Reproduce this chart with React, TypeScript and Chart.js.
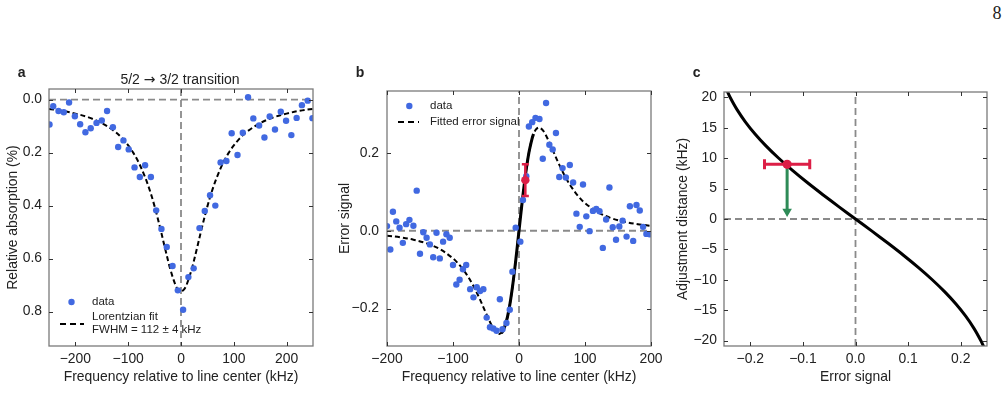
import React, { useEffect, useRef } from "react";
import { Chart, registerables } from "chart.js";
Chart.register(...registerables);

const FONT = "'Liberation Sans', Arial, Helvetica, sans-serif";
const ARROW_FONT = "'DejaVu Sans', sans-serif";
const TXT = "#222222";
const BLUE = "#4169E1";
const RED = "#DC1E46";
const GREEN = "#2E8B57";
const ZERO_GRAY = "#8a8a8a";
const FRAME = "#7a7a7a";
const FS = 13.9;

// ---------- Panel a : 5/2 -> 3/2 transition ----------
const A_FREQ = [-249, -242, -232, -222, -212, -201, -191, -181, -171, -160, -150, -140, -129, -119, -109, -99, -88, -78, -68, -57, -47, -37, -27, -16, -6, 4, 14, 24, 35, 45, 55, 65, 75, 86, 96, 107, 117, 127, 137, 148, 158, 168, 178, 189, 199, 209, 219, 229, 240, 249];
const A_ABS = [0.094, 0.025, 0.043, 0.048, 0.011, 0.063, 0.093, 0.123, 0.108, 0.088, 0.079, 0.043, 0.104, 0.179, 0.154, 0.188, 0.256, 0.292, 0.248, 0.292, 0.418, 0.488, 0.556, 0.628, 0.720, 0.793, 0.670, 0.637, 0.485, 0.420, 0.361, 0.400, 0.237, 0.232, 0.127, 0.209, 0.125, -0.009, 0.071, 0.098, 0.143, 0.064, 0.113, 0.046, 0.080, 0.134, 0.069, 0.021, 0.004, 0.070];
const A_FIT_FREQ = [-250, -225, -200, -175, -150, -125, -110, -100, -90, -80, -70, -60, -50, -40, -30, -20, -10, -5, 0, 5, 10, 20, 30, 40, 50, 60, 70, 80, 90, 100, 110, 125, 150, 175, 200, 225, 250];
const A_FIT_ABS = [0.035, 0.042, 0.053, 0.067, 0.089, 0.121, 0.149, 0.173, 0.202, 0.238, 0.283, 0.337, 0.403, 0.480, 0.563, 0.642, 0.702, 0.718, 0.724, 0.718, 0.702, 0.642, 0.563, 0.480, 0.403, 0.337, 0.283, 0.238, 0.202, 0.173, 0.149, 0.121, 0.089, 0.067, 0.053, 0.042, 0.035];
const A_XTICKS = [-200, -100, 0, 100, 200];
const A_YTICKS = [0, 0.2, 0.4, 0.6, 0.8];

// ---------- Panel b : error signal ----------
const B_FREQ = [-200, -195, -191, -186, -181, -176, -171, -166, -160, -155, -150, -145, -140, -135, -130, -125, -120, -115, -110, -105, -100, -95, -90, -85, -80, -74, -69, -64, -59, -54, -49, -44, -39, -34, -29, -25, -19, -14, -10, -5, 2, 6, 11, 15, 20, 25, 31, 36, 41, 46, 51, 56, 61, 66, 71, 77, 82, 87, 92, 97, 102, 107, 112, 117, 122, 127, 132, 137, 142, 147, 152, 157, 163, 168, 173, 178, 183, 188, 193, 198];
const B_ERR = [0.012, -0.048, 0.049, 0.024, 0.008, -0.031, 0.017, 0.028, 0.013, 0.103, -0.059, -0.004, -0.018, -0.035, -0.068, -0.005, -0.071, -0.028, -0.009, -0.018, -0.088, -0.138, -0.126, -0.099, -0.088, -0.150, -0.171, -0.145, -0.155, -0.150, -0.223, -0.248, -0.251, -0.257, -0.176, -0.253, -0.237, -0.203, -0.105, 0.008, -0.028, 0.079, 0.140, 0.268, 0.279, 0.290, 0.287, 0.185, 0.328, 0.221, 0.209, 0.251, 0.138, 0.161, 0.137, 0.169, 0.124, 0.044, 0.010, 0.119, 0.037, -0.001, 0.051, 0.056, 0.050, -0.044, 0.029, 0.111, 0.009, -0.023, 0.011, 0.026, -0.015, 0.063, -0.026, 0.066, 0.052, 0.010, -0.008, -0.009];
const B_FIT_FREQ = [-200, -180, -160, -140, -120, -100, -90, -80, -70, -60, -50, -40, -35, -30, -25, -20, -15, -10, -5, 0, 5, 10, 15, 20, 25, 30, 35, 40, 50, 60, 70, 80, 90, 100, 120, 140, 160, 180, 200];
const B_FIT_ERR = [-0.0126, -0.0168, -0.0229, -0.0323, -0.0471, -0.0711, -0.0885, -0.1107, -0.1389, -0.1732, -0.2118, -0.2478, -0.2601, -0.265, -0.2588, -0.2382, -0.2006, -0.1459, -0.077, 0, 0.077, 0.1459, 0.2006, 0.2382, 0.2588, 0.265, 0.2601, 0.2478, 0.2118, 0.1732, 0.1389, 0.1107, 0.0885, 0.0711, 0.0471, 0.0323, 0.0229, 0.0168, 0.0126];
const B_LOCK_FREQ = [-27, -25, -20, -15, -10, -5, 0, 5, 10, 15, 20, 22];
const B_LOCK_ERR = [-0.2628, -0.2588, -0.2382, -0.2006, -0.1459, -0.077, 0, 0.077, 0.1459, 0.2006, 0.2382, 0.2484];
const B_MARK_FREQ = [9.6];
const B_MARK_ERR = [0.130];
const B_MARK_UNC = [0.041];
const B_XTICKS = [-200, -100, 0, 100, 200];
const B_YTICKS = [-0.2, 0, 0.2];

// ---------- Panel c : adjustment distance ----------
const C_ADJ = [-21, -20, -18, -16, -14, -12, -10, -8, -6, -4, -2, 0, 2, 4, 6, 8, 10, 12, 14, 16, 18, 20, 21];
const C_SIG = [0.2436, 0.2382, 0.2252, 0.2095, 0.191, 0.1698, 0.1459, 0.1198, 0.0917, 0.062, 0.0313, 0, -0.0313, -0.062, -0.0917, -0.1198, -0.1459, -0.1698, -0.191, -0.2095, -0.2252, -0.2382, -0.2436];
const C_MARK_SIG = [-0.13];
const C_MARK_ADJ = [9];
const C_MARK_UNC = [0.043];
const C_ARROW_SIG = [-0.13, -0.13];
const C_ARROW_ADJ = [9, 1.6];
const C_HEAD_ADJ = [1.25];
const C_XTICKS = [-0.2, -0.1, 0, 0.1, 0.2];
const C_YTICKS = [-20, -15, -10, -5, 0, 5, 10, 15, 20];

const fmt = (v: number, d: number) => (v < -1e-9 ? "\u2212" : "") + Math.abs(v).toFixed(d);
const pts = (xs: number[], ys: number[]) => xs.map((x, i) => ({ x, y: ys[i] }));

type Seg = { s: string; family: string };
type Txt = { segs: Seg[]; x: number; y: number; size: number; bold?: boolean; align?: "left" | "center" };

function axis(o: {
  min: number; max: number; ticks: number[]; dec: number; title: string;
  horiz: boolean; extent: number; pad: number; reverse?: boolean;
}) {
  return {
    type: "linear",
    position: o.horiz ? "bottom" : "left",
    min: o.min,
    max: o.max,
    reverse: !!o.reverse,
    afterBuildTicks: (s: any) => {
      s.ticks = o.ticks.map((v) => ({ value: v }));
    },
    afterFit: (s: any) => {
      if (o.horiz) s.height = o.extent;
      else s.width = o.extent;
    },
    grid: { display: false, drawTicks: false },
    border: { display: false },
    ticks: {
      font: { family: FONT, size: FS },
      color: TXT,
      padding: o.pad,
      autoSkip: false,
      maxRotation: 0,
      callback: (v: any) => fmt(Number(v), o.dec),
    },
    title: {
      display: true,
      text: o.title,
      color: TXT,
      font: { family: FONT, size: FS },
      padding: 0,
    },
  };
}

function drawTxt(ctx: CanvasRenderingContext2D, t: Txt) {
  const fontOf = (f: string) => `${t.bold ? "bold " : ""}${t.size}px ${f}`;
  let total = 0;
  for (const g of t.segs) {
    ctx.font = fontOf(g.family);
    total += ctx.measureText(g.s).width;
  }
  let x = t.align === "center" ? t.x - total / 2 : t.x;
  ctx.textAlign = "left";
  ctx.textBaseline = "middle";
  ctx.fillStyle = TXT;
  for (const g of t.segs) {
    ctx.font = fontOf(g.family);
    ctx.fillText(g.s, x, t.y);
    x += ctx.measureText(g.s).width;
  }
}

function decoPlugin(texts: Txt[], legend: (ctx: CanvasRenderingContext2D) => void, extra?: (chart: any) => void) {
  return {
    id: "deco",
    afterDatasetsDraw(chart: any) {
      const { ctx, chartArea: a, scales } = chart;
      ctx.save();
      if (extra) extra(chart);
      ctx.setLineDash([]);
      ctx.strokeStyle = FRAME;
      ctx.lineWidth = 1.3;
      ctx.strokeRect(a.left, a.top, a.right - a.left, a.bottom - a.top);
      ctx.strokeStyle = "#333";
      ctx.lineWidth = 1;
      const L = 4;
      ctx.beginPath();
      for (const t of scales.x.ticks) {
        const px = Math.round(scales.x.getPixelForValue(t.value)) + 0.5;
        ctx.moveTo(px, a.bottom);
        ctx.lineTo(px, a.bottom - L);
        ctx.moveTo(px, a.top);
        ctx.lineTo(px, a.top + L);
      }
      for (const t of scales.y.ticks) {
        const py = Math.round(scales.y.getPixelForValue(t.value)) + 0.5;
        ctx.moveTo(a.left, py);
        ctx.lineTo(a.left + L, py);
        ctx.moveTo(a.right, py);
        ctx.lineTo(a.right - L, py);
      }
      ctx.stroke();
      ctx.restore();
    },
    afterDraw(chart: any) {
      const ctx = chart.ctx as CanvasRenderingContext2D;
      ctx.save();
      for (const t of texts) drawTxt(ctx, t);
      legend(ctx);
      ctx.restore();
    },
  };
}

function legendDot(ctx: CanvasRenderingContext2D, x: number, y: number) {
  ctx.fillStyle = BLUE;
  ctx.beginPath();
  ctx.arc(x, y, 3.2, 0, Math.PI * 2);
  ctx.fill();
}
function legendDash(ctx: CanvasRenderingContext2D, x0: number, x1: number, y: number) {
  ctx.strokeStyle = "#000";
  ctx.lineWidth = 2;
  ctx.setLineDash([6, 4]);
  ctx.beginPath();
  ctx.moveTo(x0, y);
  ctx.lineTo(x1, y);
  ctx.stroke();
  ctx.setLineDash([]);
}
function legendText(ctx: CanvasRenderingContext2D, s: string, x: number, y: number) {
  ctx.fillStyle = TXT;
  ctx.font = `11.5px ${FONT}`;
  ctx.textAlign = "left";
  ctx.textBaseline = "middle";
  ctx.fillText(s, x, y);
}

const zeroLine = (xs: number[], ys: number[]) => ({
  data: pts(xs, ys),
  showLine: true,
  borderColor: ZERO_GRAY,
  borderWidth: 1.8,
  borderDash: [7, 4],
  pointRadius: 0,
  order: 10,
  clip: 0,
});
const dots = (xs: number[], ys: number[]) => ({
  data: pts(xs, ys),
  showLine: false,
  pointRadius: 3.2,
  pointBackgroundColor: BLUE,
  pointBorderWidth: 0,
  order: 3,
  clip: 0,
});
const fitLine = (xs: number[], ys: number[]) => ({
  data: pts(xs, ys),
  showLine: true,
  borderColor: "#000",
  borderWidth: 2,
  borderDash: [5, 3],
  pointRadius: 0,
  tension: 0.35,
  order: 5,
  clip: 0,
});

function baseOptions(padding: any, x: any, y: any) {
  return {
    responsive: false,
    animation: false,
    events: [],
    layout: { padding },
    plugins: { legend: { display: false }, tooltip: { enabled: false }, title: { display: false } },
    scales: { x, y },
  };
}

function errY(chart: any, xs: number[], ys: number[], es: number[], cap: number, lw: number) {
  const { ctx, scales } = chart;
  ctx.strokeStyle = RED;
  ctx.lineWidth = lw;
  ctx.setLineDash([]);
  xs.forEach((xv, i) => {
    const px = scales.x.getPixelForValue(xv);
    const p0 = scales.y.getPixelForValue(ys[i] - es[i]);
    const p1 = scales.y.getPixelForValue(ys[i] + es[i]);
    ctx.beginPath();
    ctx.moveTo(px, p0); ctx.lineTo(px, p1);
    ctx.moveTo(px - cap, p0); ctx.lineTo(px + cap, p0);
    ctx.moveTo(px - cap, p1); ctx.lineTo(px + cap, p1);
    ctx.stroke();
  });
}
function errX(chart: any, xs: number[], ys: number[], es: number[], cap: number, lw: number) {
  const { ctx, scales } = chart;
  ctx.strokeStyle = RED;
  ctx.lineWidth = lw;
  ctx.setLineDash([]);
  xs.forEach((xv, i) => {
    const py = scales.y.getPixelForValue(ys[i]);
    const p0 = scales.x.getPixelForValue(xv - es[i]);
    const p1 = scales.x.getPixelForValue(xv + es[i]);
    ctx.beginPath();
    ctx.moveTo(p0, py); ctx.lineTo(p1, py);
    ctx.moveTo(p0, py - cap); ctx.lineTo(p0, py + cap);
    ctx.moveTo(p1, py - cap); ctx.lineTo(p1, py + cap);
    ctx.stroke();
  });
}

const letter = (s: string, x: number): Txt => ({ segs: [{ s, family: FONT }], x, y: 13.5, size: 14, bold: true, align: "center" });

export default function App() {
  const ra = useRef<HTMLCanvasElement>(null);
  const rb = useRef<HTMLCanvasElement>(null);
  const rc = useRef<HTMLCanvasElement>(null);

  useEffect(() => {
    const charts: Chart[] = [];

    // ----- a -----
    charts.push(
      new Chart(ra.current as HTMLCanvasElement, {
        type: "scatter",
        data: {
          datasets: [
            dots(A_FREQ, A_ABS),
            fitLine(A_FIT_FREQ, A_FIT_ABS),
            zeroLine([-250, 250], [0, 0]),
            zeroLine([0, 0], [-0.04, 0.93]),
          ],
        } as any,
        options: baseOptions(
          { left: 5, top: 29, right: 17, bottom: 14 },
          axis({ min: -250, max: 250, ticks: A_XTICKS, dec: 0, title: "Frequency relative to line center (kHz)", horiz: true, extent: 40, pad: 5 }),
          axis({ min: -0.04, max: 0.93, ticks: A_YTICKS, dec: 1, title: "Relative absorption (%)", horiz: false, extent: 44, pad: 7, reverse: true })
        ) as any,
        plugins: [
          decoPlugin(
            [
              letter("a", 21.7),
              {
                segs: [
                  { s: "5/2 ", family: FONT },
                  { s: "\u2192", family: ARROW_FONT },
                  { s: " 3/2 transition", family: FONT },
                ],
                x: 180,
                y: 20.5,
                size: 14,
                align: "center",
              },
            ],
            (ctx) => {
              legendDot(ctx, 71.5, 242);
              legendText(ctx, "data", 92, 241.7);
              legendDash(ctx, 60, 84, 264);
              legendText(ctx, "Lorentzian fit", 92, 256.7);
              legendText(ctx, "FWHM = 112 \u00b1 4 kHz", 92, 270);
            }
          ) as any,
        ],
      })
    );

    // ----- b -----
    charts.push(
      new Chart(rb.current as HTMLCanvasElement, {
        type: "scatter",
        data: {
          datasets: [
            {
              data: pts(B_MARK_FREQ, B_MARK_ERR),
              showLine: false,
              pointRadius: 4.2,
              pointBackgroundColor: RED,
              pointBorderWidth: 0,
              order: 0,
              clip: 0,
            },
            dots(B_FREQ, B_ERR),
            {
              data: pts(B_LOCK_FREQ, B_LOCK_ERR),
              showLine: true,
              borderColor: "#000",
              borderWidth: 3,
              pointRadius: 0,
              tension: 0.35,
              order: 4,
              clip: 0,
            },
            fitLine(B_FIT_FREQ, B_FIT_ERR),
            zeroLine([-200, 200], [0, 0]),
            zeroLine([0, 0], [-0.296, 0.359]),
          ],
        } as any,
        options: baseOptions(
          { left: 7, top: 31, right: 19, bottom: 14 },
          axis({ min: -200, max: 200, ticks: B_XTICKS, dec: 0, title: "Frequency relative to line center (kHz)", horiz: true, extent: 40, pad: 5 }),
          axis({ min: -0.296, max: 0.359, ticks: B_YTICKS, dec: 1, title: "Error signal", horiz: false, extent: 50, pad: 8 })
        ) as any,
        plugins: [
          decoPlugin(
            [letter("b", 30)],
            (ctx) => {
              legendDot(ctx, 79.3, 46);
              legendText(ctx, "data", 100, 46);
              legendDash(ctx, 68, 89, 62);
              legendText(ctx, "Fitted error signal", 100, 62);
            },
            (chart) => errY(chart, B_MARK_FREQ, B_MARK_ERR, B_MARK_UNC, 3.5, 2.5)
          ) as any,
        ],
      })
    );

    // ----- c -----
    charts.push(
      new Chart(rc.current as HTMLCanvasElement, {
        type: "scatter",
        data: {
          datasets: [
            {
              data: pts(C_MARK_SIG, C_MARK_ADJ),
              showLine: false,
              pointRadius: 4.6,
              pointBackgroundColor: RED,
              pointBorderWidth: 0,
              order: 0,
              clip: 0,
            },
            {
              data: pts([C_ARROW_SIG[0]], C_HEAD_ADJ),
              showLine: false,
              pointStyle: "triangle",
              rotation: 180,
              pointRadius: 5.5,
              pointBackgroundColor: GREEN,
              pointBorderWidth: 0,
              order: 1,
              clip: 0,
            },
            {
              data: pts(C_ARROW_SIG, C_ARROW_ADJ),
              showLine: true,
              borderColor: GREEN,
              borderWidth: 3,
              pointRadius: 0,
              order: 2,
              clip: 0,
            },
            {
              data: pts(C_SIG, C_ADJ),
              showLine: true,
              borderColor: "#000",
              borderWidth: 3,
              pointRadius: 0,
              tension: 0.3,
              order: 4,
              clip: 0,
            },
            zeroLine([-0.25, 0.25], [0, 0]),
            zeroLine([0, 0], [-20.9, 20.9]),
          ],
        } as any,
        options: baseOptions(
          { left: 5, top: 32, right: 20, bottom: 14 },
          axis({ min: -0.25, max: 0.25, ticks: C_XTICKS, dec: 1, title: "Error signal", horiz: true, extent: 40, pad: 5 }),
          axis({ min: -20.9, max: 20.9, ticks: C_YTICKS, dec: 0, title: "Adjustment distance (kHz)", horiz: false, extent: 49, pad: 7 })
        ) as any,
        plugins: [
          decoPlugin(
            [letter("c", 26.7)],
            () => {},
            (chart) => errX(chart, C_MARK_SIG, C_MARK_ADJ, C_MARK_UNC, 5, 3)
          ) as any,
        ],
      })
    );

    return () => charts.forEach((c) => c.destroy());
  }, []);

  return (
    <div style={{ position: "absolute", left: 0, top: 0, width: 1007, height: 405, background: "#fff", overflow: "hidden" }}>
      <div
        style={{
          position: "absolute",
          left: 987,
          width: 20,
          top: 3,
          textAlign: "center",
          fontFamily: "'Liberation Serif', 'DejaVu Serif', serif",
          fontSize: 18,
          lineHeight: "20px",
          color: "#222",
        }}
      >
        8
      </div>
      <canvas ref={ra} width={330} height={340} style={{ position: "absolute", left: 0, top: 60 }} />
      <canvas ref={rb} width={340} height={340} style={{ position: "absolute", left: 330, top: 60 }} />
      <canvas ref={rc} width={337} height={340} style={{ position: "absolute", left: 670, top: 60 }} />
    </div>
  );
}
